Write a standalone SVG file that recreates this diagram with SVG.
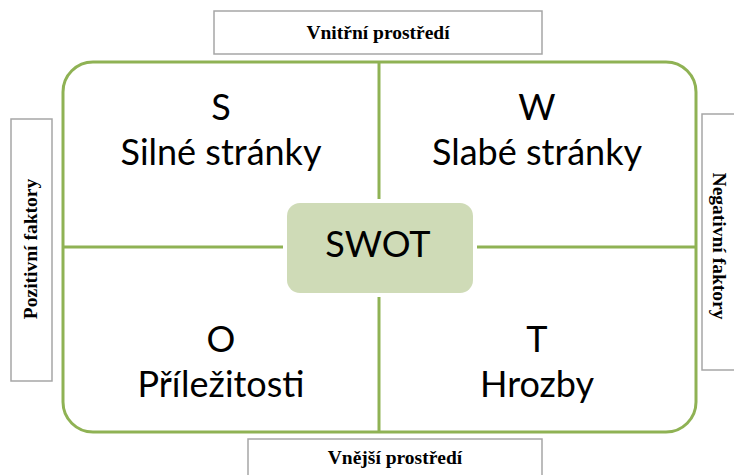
<svg xmlns="http://www.w3.org/2000/svg" width="734" height="475" viewBox="0 0 734 475">
  <style>
    .label-box { fill: #ffffff; stroke: #a6a6a6; stroke-width: 1.5; }
    .label { font-family: "Liberation Serif", "Times New Roman", serif; font-weight: bold; font-size: 19.5px; fill: #000000; text-anchor: middle; }
    .frame { fill: #ffffff; stroke: #8fb254; stroke-width: 3; }
    .divider { stroke: #8fb254; stroke-width: 3; fill: none; }
    .quad { font-family: "Lato", "Liberation Sans", sans-serif; font-size: 36px; fill: #000000; text-anchor: middle; }
    .core { fill: #cfdbb7; }
  </style>

  <!-- axis labels -->
  <g id="internal">
    <rect class="label-box" x="214" y="11" width="328" height="43"/>
    <text class="label" x="378" y="39">Vnitřní prostředí</text>
  </g>
  <g id="external">
    <rect class="label-box" x="248" y="439" width="294" height="50"/>
    <text class="label" x="395" y="464">Vnější prostředí</text>
  </g>
  <g id="positive">
    <rect class="label-box" x="11" y="119" width="41" height="262"/>
    <text class="label" transform="translate(37 249) rotate(-90)">Pozitivní faktory</text>
  </g>
  <g id="negative">
    <rect class="label-box" x="702" y="114" width="50" height="256"/>
    <text class="label" transform="translate(713 246) rotate(90)">Negativní faktory</text>
  </g>

  <!-- outer frame -->
  <g id="frame">
    <rect class="frame" x="63" y="62" width="633" height="370" rx="30" ry="30"/>
  </g>

  <!-- dividers between quadrants -->
  <g id="connectors">
    <line class="divider" x1="379" y1="62" x2="379" y2="199"/>
    <line class="divider" x1="379" y1="297" x2="379" y2="432"/>
    <line class="divider" x1="63" y1="247" x2="283" y2="247"/>
    <line class="divider" x1="477" y1="247" x2="696" y2="247"/>
  </g>

  <!-- quadrants -->
  <g id="strengths">
    <text class="quad" x="221" y="120">S</text>
    <text class="quad" x="221" y="165">Silné stránky</text>
  </g>
  <g id="weaknesses">
    <text class="quad" x="537" y="120">W</text>
    <text class="quad" x="537" y="165">Slabé stránky</text>
  </g>
  <g id="opportunities">
    <text class="quad" x="221" y="352">O</text>
    <text class="quad" x="221" y="397">Příležitosti</text>
  </g>
  <g id="threats">
    <text class="quad" x="537" y="352">T</text>
    <text class="quad" x="537" y="397">Hrozby</text>
  </g>

  <!-- centre -->
  <g id="swot">
    <rect class="core" x="287" y="203" width="186" height="90" rx="13" ry="13"/>
    <text class="quad" x="378" y="257">SWOT</text>
  </g>
</svg>
